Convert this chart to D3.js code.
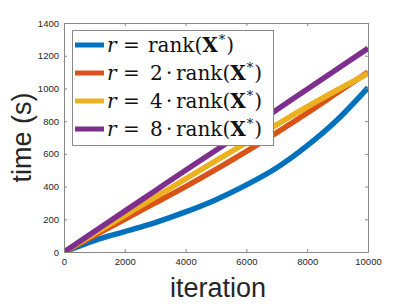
<!DOCTYPE html>
<html><head><meta charset="utf-8">
<script src="https://cdn.jsdelivr.net/npm/d3@7"></script>
<style>body{margin:0;background:#fff}svg{display:block}</style>
</head><body>
<script>
const iterations = [0,1000,2000,3000,4000,5000,6000,7000,8000,9000,10000];
const blue   = [0,70,125,180,245,320,410,515,650,810,1005];
const orange = [0,100,200,300,400,505,615,730,850,975,1100];
const yellow = [0,112,224,336,447,558,668,778,888,992,1092];
const purple = [0,125,250,375,500,622,745,870,995,1120,1245];
const seriesNames = ["1","2","4","8"];
const xTicks = [0,2000,4000,6000,8000,10000];
const yTicks = [0,200,400,600,800,1000,1200,1400];
const colors = ["#0072BD","#D95319","#EDB120","#7E2F8E"];
const allSeries = [blue, orange, yellow, purple];

const W = 407, H = 305;
const m = {l:64, r:368, t:23, b:252};
const svg = d3.select("body").append("svg").attr("width", W).attr("height", H);
const x = d3.scaleLinear().domain([0,10000]).range([m.l, m.r]);
const y = d3.scaleLinear().domain([0,1400]).range([m.b, m.t]);

svg.append("clipPath").attr("id","c").append("rect")
  .attr("x", m.l).attr("y", m.t).attr("width", m.r-m.l).attr("height", m.b-m.t);

const line = d3.line().x((d,i)=>x(iterations[i])).y(d=>y(d)).curve(d3.curveMonotoneX);
const g = svg.append("g").attr("clip-path","url(#c)");
allSeries.forEach((s,k)=>{
  g.append("path").attr("d", line(s)).attr("fill","none")
   .attr("stroke", colors[k]).attr("stroke-width", 5.5).attr("stroke-linejoin","round");
});

const axCol = "#262626";
const fontTick = "Helvetica, 'Liberation Sans', Arial, sans-serif";
const fmt = d3.format("d");
const xb = svg.append("g").attr("transform",`translate(0,${m.b})`)
  .call(d3.axisBottom(x).tickValues(xTicks).tickSizeInner(-3).tickSizeOuter(0).tickPadding(6).tickFormat(fmt));
const xt = svg.append("g").attr("transform",`translate(0,${m.t})`)
  .call(d3.axisTop(x).tickValues(xTicks).tickSizeInner(-3).tickSizeOuter(0).tickFormat(""));
const yl = svg.append("g").attr("transform",`translate(${m.l},0)`)
  .call(d3.axisLeft(y).tickValues(yTicks).tickSizeInner(-3).tickSizeOuter(0).tickPadding(5).tickFormat(fmt));
const yr = svg.append("g").attr("transform",`translate(${m.r},0)`)
  .call(d3.axisRight(y).tickValues(yTicks).tickSizeInner(-3).tickSizeOuter(0).tickFormat(""));
[xb,xt,yl,yr].forEach(a=>{
  a.selectAll("path").attr("stroke","#888").attr("stroke-width",1);
  a.selectAll("line").attr("stroke","#888");
  a.selectAll("text").attr("fill",axCol).attr("font-size",9.5).attr("font-family",fontTick);
});

svg.append("text").attr("x",(m.l+m.r)/2+2).attr("y",297).attr("text-anchor","middle")
  .attr("font-size",27).attr("font-family",fontTick).attr("fill",axCol).text("iteration");
svg.append("text").attr("transform",`translate(31,${(m.t+m.b)/2}) rotate(-90)`).attr("text-anchor","middle")
  .attr("font-size",27).attr("font-family",fontTick).attr("fill",axCol).text("time (s)");

// legend
const lg = svg.append("g");
lg.append("rect").attr("x",72.5).attr("y",30.5).attr("width",201).attr("height",115)
  .attr("fill","#fff").attr("stroke","#888").attr("stroke-width",1);
const serif = "'DejaVu Serif', 'Liberation Serif', serif";
seriesNames.forEach((n,k)=>{
  const yy = 45 + k*28;
  lg.append("line").attr("x1",75).attr("x2",104).attr("y1",yy).attr("y2",yy)
    .attr("stroke",colors[k]).attr("stroke-width",5);
  const t = lg.append("text").attr("y",yy+7).attr("font-size",20)
    .attr("font-family",serif).attr("fill","#111");
  const one = n==="1";
  t.append("tspan").attr("x",107).attr("font-style","italic").text("r");
  t.append("tspan").attr("x",123).text("=");
  if (!one) {
    t.append("tspan").attr("x",150).text(n);
    t.append("tspan").attr("x",166).text("·");
  }
  t.append("tspan").attr("x", one ? 148 : 176).text("rank(");
  t.append("tspan").attr("font-weight","bold").text("X");
  t.append("tspan").attr("font-size",13).attr("dx",1).attr("dy",-8).text("*");
  t.append("tspan").attr("dx",1).attr("dy",8).text(")");
});
</script>
</body></html>
